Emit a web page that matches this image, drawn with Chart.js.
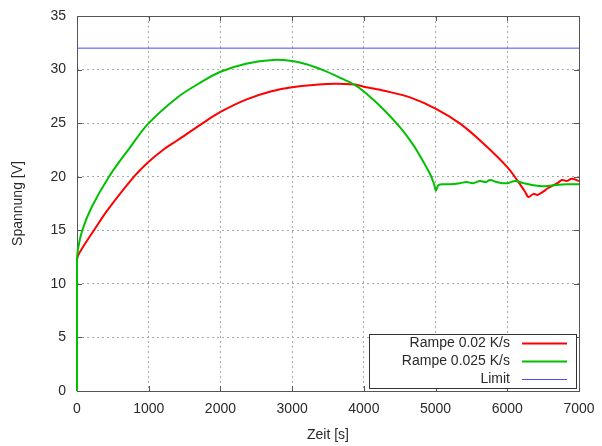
<!DOCTYPE html>
<html>
<head>
<meta charset="utf-8">
<script src="https://cdn.jsdelivr.net/npm/chart.js@4.4.0/dist/chart.umd.min.js"></script>
<style>
  html, body { margin: 0; padding: 0; background: #fff; }
  canvas { display: block; }
</style>
</head>
<body>
<canvas id="rampChart" width="602" height="446"></canvas>
<script>
// --- values ---
const rampSlowTime = [0, 0, 52, 237, 423, 795, 1000, 1190, 1400, 1776, 2000, 2357, 2700, 3000, 3482, 3877, 4000, 4300, 4644, 5000, 5342, 5667, 6000, 6156, 6248, 6295, 6365, 6420, 6500, 6560, 6640, 6700, 6760, 6830, 6900, 7000];
const rampSlowVolt = [9.0, 12.3, 13.1, 15.0, 16.85, 20.0, 21.4, 22.45, 23.4, 25.1, 26.05, 27.2, 27.95, 28.35, 28.65, 28.6, 28.4, 28.0, 27.4, 26.35, 24.95, 23.1, 20.9, 19.5, 18.6, 18.1, 18.4, 18.3, 18.6, 18.9, 19.2, 19.4, 19.7, 19.6, 19.8, 19.6];

const rampFastTime = [0, 0, 15, 74, 200, 446, 725, 1000, 1400, 1700, 2000, 2357, 2734, 3000, 3200, 3431, 3650, 3877, 4000, 4272, 4505, 4644, 4734, 4920, 4980, 5005, 5039, 5120, 5201, 5341, 5434, 5520, 5620, 5700, 5759, 5853, 5930, 6006, 6108, 6224, 6363, 6503, 6642, 6829, 7000];
const rampFastVolt = [0, 12.0, 13.3, 15.0, 17.1, 20.0, 22.6, 25.0, 27.4, 28.7, 29.8, 30.55, 30.9, 30.8, 30.5, 29.95, 29.3, 28.55, 27.95, 26.3, 24.6, 23.4, 22.5, 20.3, 19.3, 18.7, 19.2, 19.3, 19.3, 19.4, 19.5, 19.4, 19.6, 19.5, 19.7, 19.5, 19.4, 19.4, 19.6, 19.4, 19.2, 19.1, 19.2, 19.3, 19.3];

const limitTime = [0, 7000];
const limitVolt = [32, 32];

const seriesLabels = ["Rampe 0.02 K/s", "Rampe 0.025 K/s", "Limit"];
const seriesColors = ["#ff0000", "#00c000", "#4a4aff"];

const toPoints = (xs, ys) => xs.map((x, i) => ({ x: x, y: ys[i] }));

const FONT = "'Liberation Sans', Arial, sans-serif";
const TEXT = "#2a2a2a";

// --- frame, inward ticks and key box, gnuplot style ---
const gnuplotFrame = {
  id: "gnuplotFrame",
  beforeDatasetsDraw(chart) {
    const ctx = chart.ctx;
    const a = chart.chartArea;
    const xs = chart.scales.x, ys = chart.scales.y;
    ctx.save();
    ctx.strokeStyle = "#555";
    ctx.lineWidth = 1;
    ctx.beginPath();
    xs.ticks.forEach(t => {
      const px = Math.round(xs.getPixelForValue(t.value)) + 0.5;
      ctx.moveTo(px, a.bottom); ctx.lineTo(px, a.bottom - 5);
      ctx.moveTo(px, a.top); ctx.lineTo(px, a.top + 5);
    });
    ys.ticks.forEach(t => {
      const py = Math.round(ys.getPixelForValue(t.value)) + 0.5;
      ctx.moveTo(a.left, py); ctx.lineTo(a.left + 5, py);
      ctx.moveTo(a.right, py); ctx.lineTo(a.right - 5, py);
    });
    ctx.stroke();
    ctx.strokeRect(Math.round(a.left) + 0.5, Math.round(a.top) + 0.5,
                   Math.round(a.right - a.left), Math.round(a.bottom - a.top));
    ctx.restore();
  },
  afterDatasetsDraw(chart) {
    const ctx = chart.ctx;
    const a = chart.chartArea;
    ctx.save();
    // key
    const boxR = Math.round(a.right) - 3, boxB = Math.round(a.bottom) - 3;
    const boxW = 207, boxH = 54;
    const boxL = boxR - boxW, boxT = boxB - boxH;
    ctx.fillStyle = "#fff";
    ctx.fillRect(boxL, boxT, boxW, boxH);
    ctx.strokeStyle = "#333";
    ctx.lineWidth = 1;
    ctx.strokeRect(boxL + 0.5, boxT + 0.5, boxW, boxH);
    ctx.font = "14px " + FONT;
    ctx.textAlign = "right";
    ctx.textBaseline = "middle";
    chart.data.datasets.forEach((ds, i) => {
      const y = boxT + 9 + i * 18;
      ctx.fillStyle = TEXT;
      ctx.fillText(ds.label, boxR - 66, y);
      ctx.strokeStyle = ds.borderColor;
      ctx.lineWidth = ds.borderWidth;
      ctx.beginPath();
      ctx.moveTo(boxR - 54, y + 0.5);
      ctx.lineTo(boxR - 9, y + 0.5);
      ctx.stroke();
    });
    ctx.restore();
  }
};

const ctx = document.getElementById("rampChart").getContext("2d");

new Chart(ctx, {
  type: "line",
  data: {
    datasets: [
      {
        label: seriesLabels[0],
        data: toPoints(rampSlowTime, rampSlowVolt),
        borderColor: seriesColors[0],
        borderWidth: 2,
        pointRadius: 0,
        tension: 0.35,
        clip: 3,
        order: 3
      },
      {
        label: seriesLabels[1],
        data: toPoints(rampFastTime, rampFastVolt),
        borderColor: seriesColors[1],
        borderWidth: 2,
        pointRadius: 0,
        tension: 0.35,
        clip: 3,
        order: 2
      },
      {
        label: seriesLabels[2],
        data: toPoints(limitTime, limitVolt),
        borderColor: seriesColors[2],
        borderWidth: 1,
        pointRadius: 0,
        tension: 0,
        order: 1
      }
    ]
  },
  options: {
    responsive: false,
    animation: false,
    layout: { padding: { top: 16, right: 23, left: 0, bottom: 0 } },
    plugins: {
      legend: { display: false },
      tooltip: { enabled: false }
    },
    scales: {
      x: {
        type: "linear",
        min: 0,
        max: 7000,
        afterFit: s => { s.height = 55; s.paddingLeft = 0; s.paddingRight = 0; },
        ticks: { stepSize: 1000, padding: 10, color: TEXT, font: { size: 14, family: FONT }, maxRotation: 0,
                 callback: v => String(v) },
        grid: { color: "#a8a8a8", drawTicks: false },
        border: { display: false, dash: [2, 3] },
        title: { display: true, text: "Zeit [s]", color: TEXT, font: { size: 14, family: FONT }, padding: { top: 6, bottom: 2 } }
      },
      y: {
        min: 0,
        max: 35,
        afterFit: s => { s.width = 77; s.paddingTop = 0; s.paddingBottom = 0; },
        ticks: { stepSize: 5, padding: 11, color: TEXT, font: { size: 14, family: FONT } },
        grid: { color: "#a8a8a8", drawTicks: false },
        border: { display: false, dash: [2, 3] },
        title: { display: true, text: "Spannung [V]", color: TEXT, font: { size: 14, family: FONT }, padding: { top: 10, bottom: 4 } }
      }
    }
  },
  plugins: [gnuplotFrame]
});
</script>
</body>
</html>
